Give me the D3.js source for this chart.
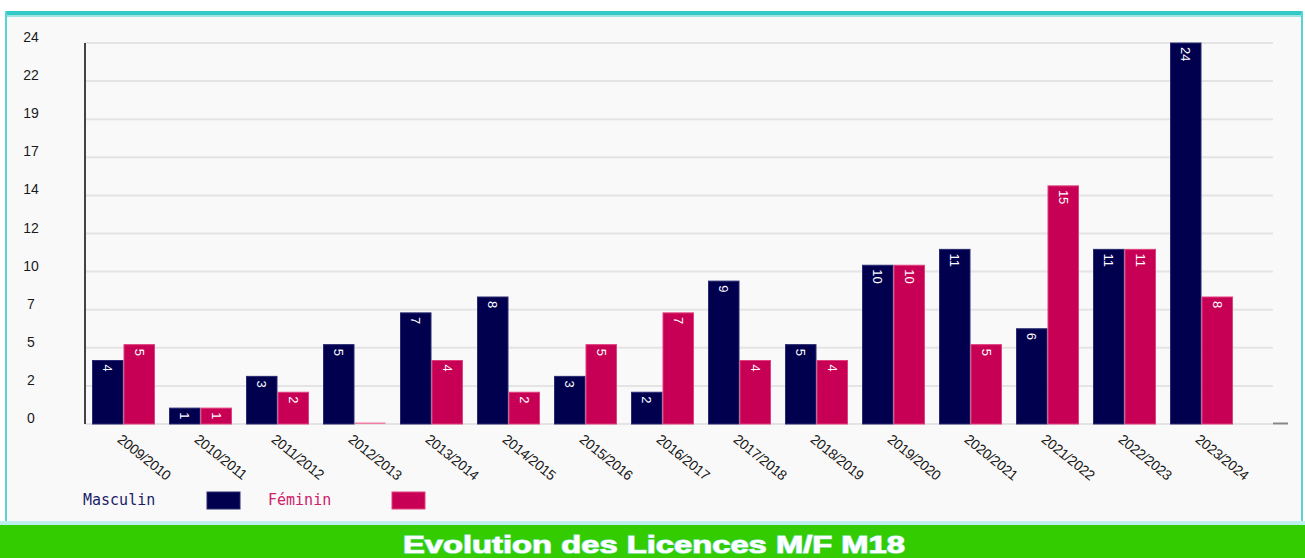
<!DOCTYPE html>
<html><head><meta charset="utf-8">
<script src="https://cdn.jsdelivr.net/npm/d3@7"></script>
<style>html,body{margin:0;padding:0;background:#fff;overflow:hidden}</style>
</head><body>
<svg id="c" width="1305" height="558"></svg>
<script>
const categories = ["2009/2010","2010/2011","2011/2012","2012/2013","2013/2014","2014/2015","2015/2016","2016/2017","2017/2018","2018/2019","2019/2020","2020/2021","2021/2022","2022/2023","2023/2024"];
const masculin = [4,1,3,5,7,8,3,2,9,5,10,11,6,11,24];
const feminin  = [5,1,2,0,4,2,5,7,4,4,10,5,15,11,8];
const seriesNames = ["Masculin","Féminin"];
const yTickValues = [0,2.4,4.8,7.2,9.6,12,14.4,16.8,19.2,21.6,24];
const yTickLabels = ["0","2","5","7","10","12","14","17","19","22","24"];
const title = "Evolution des Licences M/F M18";

const colors = ["#00004f","#c80055"];
const strokes = ["#2a2a70","#e0407c"];
const textColors = ["#1c1c6a","#d0206a"];

const svg = d3.select("#c");
// frame
svg.append("rect").attr("x",5).attr("y",11).attr("width",1298).attr("height",512).attr("fill","#f9f9f9");
svg.append("rect").attr("x",5).attr("y",11).attr("width",1298).attr("height",4).attr("fill","#33c9c6");
svg.append("rect").attr("x",5).attr("y",15).attr("width",1298).attr("height",2).attr("fill","#9fe3e1");
svg.append("rect").attr("x",5).attr("y",11).attr("width",2).attr("height",512).attr("fill","#55d5d8");
svg.append("rect").attr("x",1301).attr("y",11).attr("width",2).attr("height",512).attr("fill","#55d5d8");
svg.append("rect").attr("x",0).attr("y",521).attr("width",1305).attr("height",4).attr("fill","#bfeeee");
svg.append("rect").attr("x",0).attr("y",525).attr("width",1305).attr("height",33).attr("fill","#33cc00");

const x = d3.scaleBand().domain(categories).range([85,1240]).paddingInner(14/77).paddingOuter(7/77);
const xs = d3.scaleBand().domain(seriesNames).range([0,x.bandwidth()]);
const y = d3.scaleLinear().domain([0,24]).range([424,43]);

// grid
const g = svg.append("g");
g.selectAll("line.grid").data(yTickValues).join("line")
  .attr("x1",85).attr("x2",1273).attr("y1",d=>y(d)).attr("y2",d=>y(d))
  .attr("stroke","#e4e4e4").attr("stroke-width",2);
// y labels
g.selectAll("text.yl").data(yTickValues).join("text")
  .attr("x",31).attr("y",d=>y(d)-1).attr("text-anchor","middle")
  .attr("font-family","Liberation Sans, Arial, sans-serif").attr("font-size",14).attr("fill","#1a1a1a")
  .text((d,i)=>yTickLabels[i]);
// y axis line
g.append("line").attr("x1",85).attr("x2",85).attr("y1",y(24)).attr("y2",y(0)).attr("stroke","#444").attr("stroke-width",2);
// right stub
g.append("line").attr("x1",1273).attr("x2",1288).attr("y1",y(0)-0.5).attr("y2",y(0)-0.5).attr("stroke","#888").attr("stroke-width",2);

const rows = categories.map((c,i)=>({c, vals:[masculin[i],feminin[i]]}));
const grp = svg.selectAll("g.grp").data(rows).join("g").attr("transform",d=>`translate(${x(d.c)},0)`);
grp.selectAll("rect").data(d=>d.vals.map((v,k)=>({v,k}))).join("rect")
  .attr("x",d=>xs(seriesNames[d.k])+0.5).attr("width",xs.bandwidth()-1)
  .attr("y",d=>Math.min(y(d.v), y(0)-1.5)).attr("height",d=>Math.max(y(0)-y(d.v),1.5))
  .attr("fill",d=>d.v>0?colors[d.k]:"#f080a8").attr("stroke",d=>d.v>0?strokes[d.k]:"none").attr("stroke-width",1);
grp.selectAll("text").data(d=>d.vals.map((v,k)=>({v,k})).filter(d=>d.v>0)).join("text")
  .attr("transform",d=>`translate(${xs(seriesNames[d.k])+xs.bandwidth()/2},${y(d.v)+4}) rotate(90)`)
  .attr("dominant-baseline","central")
  .attr("font-family","Liberation Sans, Arial, sans-serif").attr("font-size",13).attr("fill","#fff")
  .text(d=>d.v);

// x labels
svg.selectAll("text.xl").data(categories).join("text")
  .attr("transform",d=>`translate(${x(d)+x.bandwidth()/2-7},441) rotate(39)`)
  .attr("font-family","Liberation Sans, Arial, sans-serif").attr("font-size",14).attr("fill","#1a1a1a")
  .attr("letter-spacing","-0.3")
  .text(d=>d);

// legend
const leg = [{x:83,rx:207},{x:268,rx:392}];
seriesNames.forEach((n,k)=>{
  svg.append("text").attr("x",leg[k].x).attr("y",505).attr("font-family","DejaVu Sans Mono, monospace")
    .attr("font-size",15).attr("fill",textColors[k]).text(n);
  svg.append("rect").attr("x",leg[k].rx).attr("y",492).attr("width",33).attr("height",17)
    .attr("fill",colors[k]).attr("stroke",strokes[k]).attr("stroke-width",1);
});

// title
svg.append("text").attr("x",654).attr("y",553).attr("text-anchor","middle")
  .attr("font-family","Liberation Sans, Arial, sans-serif").attr("font-weight","bold").attr("font-size",23)
  .attr("fill","#fff").attr("stroke","#bfeeff").attr("stroke-width",1.2).attr("paint-order","stroke")
  .attr("textLength",502).attr("lengthAdjust","spacingAndGlyphs")
  .text(title);
</script>
</body></html>
